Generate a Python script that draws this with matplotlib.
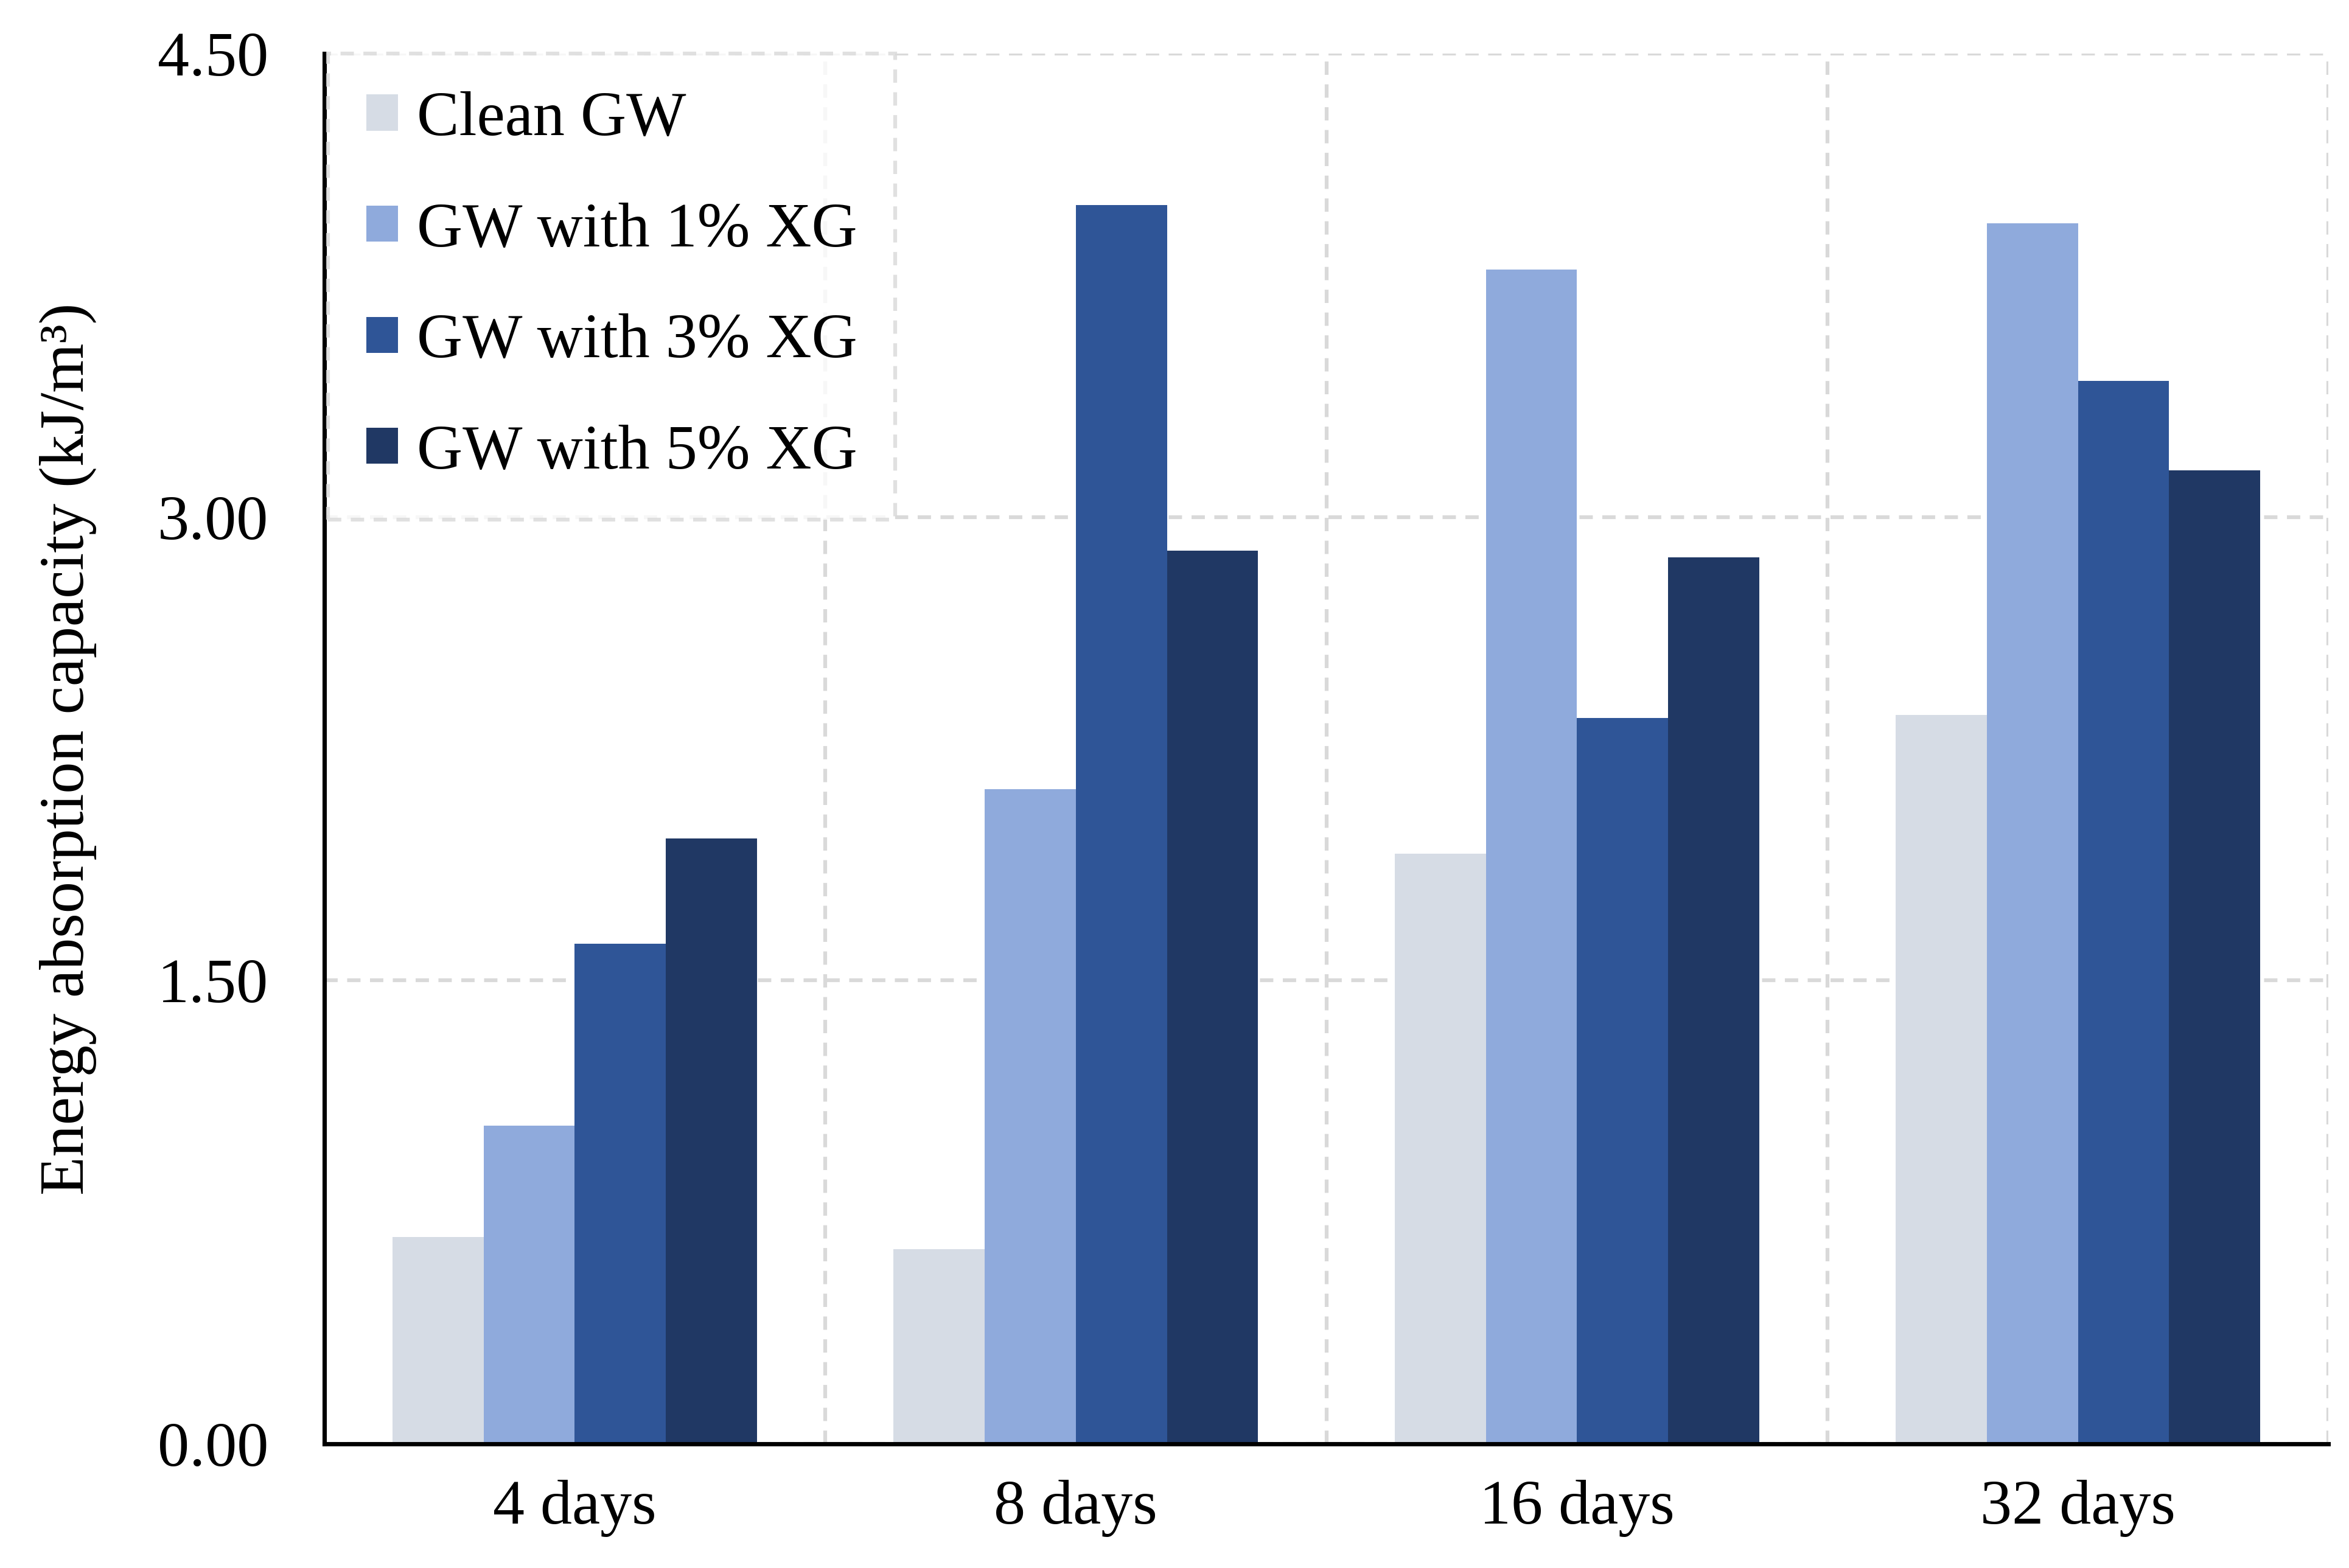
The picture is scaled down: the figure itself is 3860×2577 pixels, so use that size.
import numpy as np
import matplotlib
matplotlib.use('Agg')
import matplotlib.pyplot as plt

# ---------------data---------------
CATEGORIES = ['4 days', '8 days', '16 days', '32 days']
SERIES = ['Clean GW', 'GW with 1% XG', 'GW with 3% XG', 'GW with 5% XG']
clean_gw = [0.67, 0.63, 1.91, 2.36]
xg_1 = [1.03, 2.12, 3.80, 3.95]
xg_3 = [1.62, 4.01, 2.35, 3.44]
xg_5 = [1.96, 2.89, 2.87, 3.15]
COLORS = ['#D6DCE5', '#8FAADC', '#2F5597', '#203864']
# ----------------------------------

plt.rcParams['font.family'] = ['Liberation Serif', 'DejaVu Serif']

fig = plt.figure(figsize=(12.87, 8.59), dpi=300)
ax = fig.add_axes([0.138, 0.079, 0.853, 0.887])

x = np.arange(len(CATEGORIES))
w = 1 / 5.5
values = [clean_gw, xg_1, xg_3, xg_5]
for i, (vals, name, c) in enumerate(zip(values, SERIES, COLORS)):
    ax.bar(x + (i - 1.5) * w, vals, w, color=c, label=name, zorder=3)

ax.set_xlim(-0.5, 3.5)
ax.set_ylim(0, 4.5)
ax.set_yticks([0, 1.5, 3.0, 4.5])
ax.set_yticklabels([f'{v:.2f}' for v in [0, 1.5, 3.0, 4.5]])
ax.set_xticks(x)
ax.set_xticklabels(CATEGORIES)
ax.set_xticks([0.5, 1.5, 2.5, 3.5], minor=True)
ax.tick_params(axis='both', which='both', length=0, labelsize=25)
ax.tick_params(axis='x', pad=14)
ax.tick_params(axis='y', pad=22)

grid_kw = dict(color='#D9D9D9', linewidth=1.5, linestyle=(0, (3.5, 2.5)))
ax.yaxis.grid(True, which='major', **grid_kw)
ax.xaxis.grid(True, which='minor', **grid_kw)
ax.set_axisbelow(True)

for s in ['top', 'right']:
    ax.spines[s].set_visible(False)
for s in ['left', 'bottom']:
    ax.spines[s].set_linewidth(1.7)
    ax.spines[s].set_zorder(4)

ax.set_ylabel('Energy absorption capacity (kJ/m³)', fontsize=25, labelpad=24)

leg = ax.legend(loc='upper left', bbox_to_anchor=(0.002, 1.0), borderaxespad=0,
                fontsize=25, frameon=True, fancybox=False, handlelength=0.5,
                handleheight=0.5, handletextpad=0.3, labelspacing=0.85,
                borderpad=0.6)
frame = leg.get_frame()
frame.set_edgecolor('#D9D9D9')
frame.set_linestyle((0, (3.5, 2.5)))
frame.set_linewidth(1.5)
leg.set_zorder(5)

plt.savefig('out.png', dpi=300)
